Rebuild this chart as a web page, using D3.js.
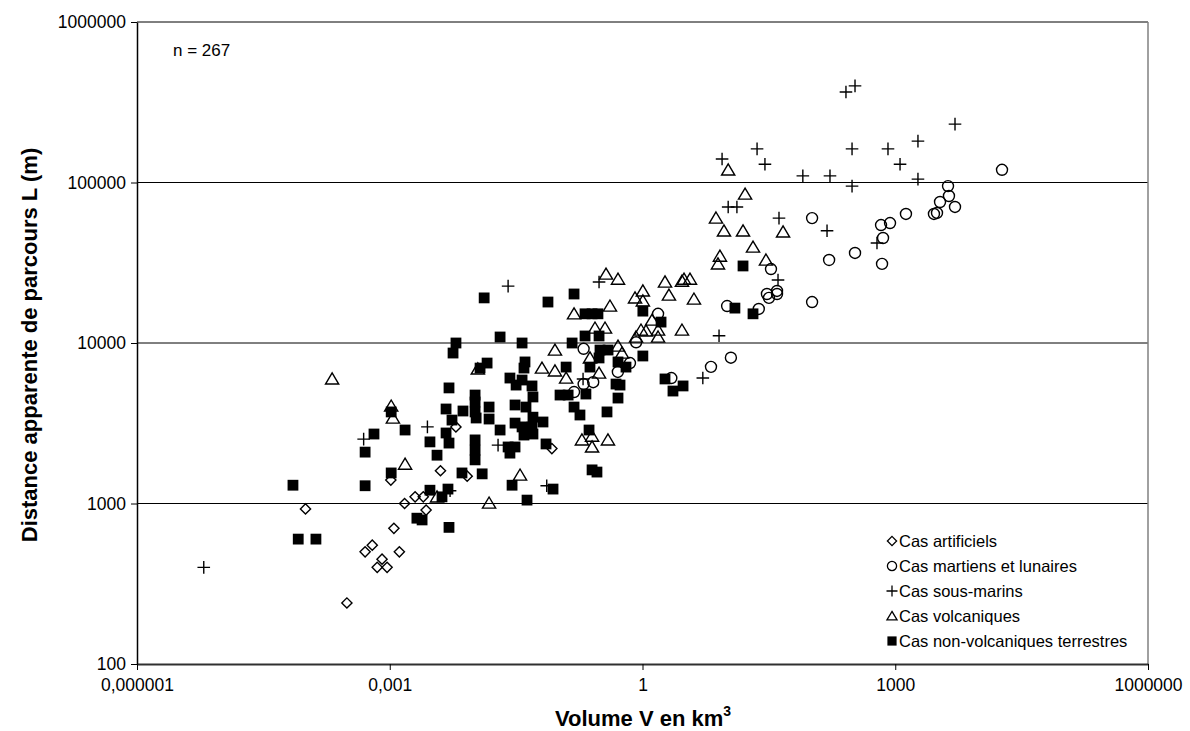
<!DOCTYPE html>
<html>
<head>
<meta charset="utf-8">
<script src="https://cdn.jsdelivr.net/npm/d3@7"></script>
<style>
  html, body { margin: 0; padding: 0; background: #fff; }
  svg { display: block; font-family: "Liberation Sans", Arial, sans-serif; }
</style>
</head>
<body>
<svg id="chart" width="1190" height="731"></svg>
<script>
// ---------------- DATA ----------------
const xTickValues = [1e-6, 1e-3, 1, 1e3, 1e6];
const xTickLabels = ["0,000001", "0,001", "1", "1000", "1000000"];
const yTickValues = [100, 1000, 10000, 100000, 1000000];
const yTickLabels = ["100", "1000", "10000", "100000", "1000000"];

const seriesNames = ["Cas artificiels", "Cas martiens et lunaires", "Cas sous-marins", "Cas volcaniques", "Cas non-volcaniques terrestres"];

// Cas artificiels
const artificielsV = [1.0e-4, 3.1e-4, 5.1e-4, 6.2e-4, 8.1e-4, 7.1e-4, 9.3e-4, 1.3e-3, 1.12e-3, 1.03e-3, 1.5e-3, 2.0e-3, 2.5e-3, 2.7e-3, 4.0e-3, 6.1e-3, 8.3e-3, 0.084];
const artificielsL = [925, 240, 500, 550, 450, 400, 400, 500, 700, 1400, 1000, 1100, 1100, 910, 1600, 3000, 1480, 2200];

// Cas martiens et lunaires
const martiensV = [0.20, 0.84, 1.53, 0.71, 0.51, 0.20, 0.26, 0.154, 2.2, 6.5, 11.2, 10.1, 24, 33.5, 30, 31.7, 39.5, 39.5, 103, 103, 164, 333, 678, 867, 716, 697, 1340, 2880, 3130, 3400, 4230, 4340, 5120, 18500];
const martiensL = [9200, 10100, 15200, 7500, 6600, 5550, 5700, 4950, 6050, 7100, 8100, 17000, 16300, 28900, 20200, 19100, 21100, 20200, 60000, 18000, 32900, 36400, 54300, 55900, 45100, 31100, 63700, 63700, 64600, 75600, 95000, 82400, 70400, 120000];

// Cas sous-marins
const sousMarinsV = [6.2e-6, 4.9e-4, 2.8e-3, 5.2e-3, 0.0193, 0.0254, 0.073, 0.305, 0.197, 5.2, 8.1, 10.4, 13.2, 8.8, 22.9, 28.4, 41.7, 40.6, 80, 168, 155, 260, 333, 307, 307, 607, 820, 1140, 1860, 1860, 5120];
const sousMarinsL = [400, 2520, 3000, 1200, 2310, 22600, 1290, 24000, 5970, 6050, 11100, 70400, 70400, 140000, 162000, 130000, 60000, 24700, 110000, 110000, 50000, 366000, 400000, 162000, 95000, 42000, 162000, 130000, 181000, 105000, 231000];

// Cas volcaniques
const volcaniquesV = [2.07e-4, 1.04e-3, 1.09e-3, 1.52e-3, 3.64e-3, 0.0151, 0.0352, 0.0111, 0.0641, 0.0914, 0.0914, 0.124, 0.154, 0.238, 0.305, 0.369, 0.512, 0.411, 0.273, 0.359, 0.815, 1.01, 1.01, 0.838, 0.96, 1.10, 1.53, 1.53, 1.30, 2.06, 1.85, 2.94, 3.11, 3.66, 4.08, 2.94, 0.512, 0.571, 0.191, 0.252, 0.389, 0.252, 7.45, 9.27, 15.6, 10.4, 16.5, 46.6, 20.5, 8.3, 7.87, 29.2];
const volcaniquesL = [5970, 4050, 3410, 1760, 1100, 1007, 1505, 6890, 6980, 9040, 6700, 6050, 15200, 8070, 6500, 26900, 25000, 17000, 12400, 12400, 19100, 21100, 18300, 10900, 12050, 11900, 12050, 10900, 13900, 19900, 24000, 24300, 25000, 25000, 18800, 12050, 9570, 8660, 2490, 2250, 2490, 2630, 60100, 49900, 49900, 119700, 84700, 49200, 39600, 34800, 31100, 32900];

// Cas non-volcaniques terrestres
const nonVolcaniquesV = [7.1e-5, 8.2e-5, 1.33e-4, 5.1e-4, 5.1e-4, 6.5e-4, 1.04e-3, 1.04e-3, 1.52e-3, 2.1e-3, 2.42e-3, 3.0e-3, 3.64e-3, 3.0e-3, 4.66e-3, 5.05e-3, 4.17e-3, 4.91e-3, 5.05e-3, 5.05e-3, 4.66e-3, 5.48e-3, 7.2e-3, 7.4e-3, 0.0103, 0.0103, 0.0103, 0.0106, 0.0151, 0.0151, 0.0204, 0.0103, 0.0103, 0.0103, 0.0125, 0.0143, 0.0118, 5.64e-3, 6.11e-3, 0.0283, 0.0426, 0.0132, 0.0755, 0.154, 0.0204, 0.0372, 0.146, 0.208, 0.305, 0.208, 0.252, 0.296, 0.313, 0.39, 0.305, 0.238, 0.124, 0.512, 0.637, 0.485, 0.541, 0.512, 1.01, 1.01, 0.379, 0.232, 0.252, 0.288, 0.154, 0.181, 0.105, 0.131, 0.213, 0.0403, 0.0392, 0.0267, 0.0316, 0.0372, 0.0488, 0.0501, 0.0307, 0.0414, 0.0501, 0.0307, 0.0372, 0.0488, 0.0392, 0.0501, 0.0254, 0.0307, 0.0267, 0.0659, 0.0716, 0.0867, 15.6, 12.5, 20.5, 1.66, 1.85, 3.03, 2.30];
const nonVolcaniquesL = [1300, 600, 600, 2090, 1290, 2710, 3720, 1550, 2870, 810, 790, 2420, 2000, 1210, 2750, 2380, 1100, 1230, 710, 5250, 3880, 3310, 1550, 3770, 4740, 4290, 3720, 3410, 3990, 3360, 2870, 2490, 2150, 1870, 1530, 7500, 6980, 8660, 10000, 1300, 1050, 19100, 18000, 20200, 10900, 10000, 10000, 11060, 11060, 15200, 15200, 15200, 9040, 9040, 8070, 7080, 7080, 7620, 7080, 5550, 5470, 4540, 15800, 8300, 3720, 2870, 1620, 1570, 3990, 3560, 4740, 4740, 4810, 7620, 6980, 6050, 5470, 5880, 5400, 4610, 4110, 3990, 3450, 3170, 3000, 3000, 2670, 2710, 2250, 2250, 2060, 3220, 2350, 1230, 30200, 16500, 15200, 13500, 5970, 5400, 5020];

const sampleNote = "n = 267";

// ---------------- LAYOUT ----------------
const svg = d3.select("#chart");
const plot = { left: 137, right: 1148, top: 22, bottom: 664 };

const x = d3.scaleLog().domain([1e-6, 1e6]).range([plot.left, plot.right]);
const y = d3.scaleLog().domain([100, 1e6]).range([plot.bottom, plot.top]);

// gridlines
svg.append("g")
  .selectAll("line")
  .data(yTickValues.slice(1))
  .join("line")
  .attr("x1", plot.left).attr("x2", plot.right)
  .attr("y1", d => y(d)).attr("y2", d => y(d))
  .attr("stroke", "#000").attr("stroke-width", 1);

// right border
svg.append("line")
  .attr("x1", plot.right).attr("x2", plot.right)
  .attr("y1", plot.top).attr("y2", plot.bottom)
  .attr("stroke", "#808080").attr("stroke-width", 1.5);

// axes
const xAxis = d3.axisBottom(x)
  .tickValues(xTickValues)
  .tickFormat((d, i) => xTickLabels[i])
  .tickSize(6).tickSizeOuter(0).tickPadding(9);
const gx = svg.append("g").attr("transform", `translate(0,${plot.bottom})`).call(xAxis);
gx.select(".domain").attr("stroke", "#303030").attr("stroke-width", 2);
gx.selectAll(".tick line").attr("stroke", "#000");
gx.selectAll(".tick text").attr("font-size", 17.5).attr("fill", "#000")
  .attr("font-family", "'Liberation Sans', Arial, sans-serif");

const yAxis = d3.axisLeft(y)
  .tickValues(yTickValues)
  .tickFormat((d, i) => yTickLabels[i])
  .tickSize(6).tickSizeOuter(0).tickPadding(5);
const gy = svg.append("g").attr("transform", `translate(${plot.left},0)`).call(yAxis);
gy.select(".domain").attr("stroke", "#000").attr("stroke-width", 1.5);
gy.selectAll(".tick line").attr("stroke", "#000");
gy.selectAll(".tick text").attr("font-size", 17.5).attr("fill", "#000")
  .attr("font-family", "'Liberation Sans', Arial, sans-serif");

// ---------------- MARKERS ----------------
function markerPath(type, s) {
  if (type === "diamond") return `M0,${-s}L${s},0L0,${s}L${-s},0Z`;
  if (type === "circle") return `M${s},0A${s},${s} 0 1,1 ${-s},0A${s},${s} 0 1,1 ${s},0Z`;
  if (type === "plus") return `M${-s},0H${s}M0,${-s}V${s}`;
  if (type === "triangle") return `M0,${-s}L${s * 1.1},${s * 0.85}L${-s * 1.1},${s * 0.85}Z`;
  if (type === "square") return `M${-s},${-s}H${s}V${s}H${-s}Z`;
}

const series = [
  { name: seriesNames[0], v: artificielsV, l: artificielsL, type: "diamond", size: 5.1, fill: "none" },
  { name: seriesNames[1], v: martiensV, l: martiensL, type: "circle", size: 5.5, fill: "none" },
  { name: seriesNames[2], v: sousMarinsV, l: sousMarinsL, type: "plus", size: 6.3, fill: "none" },
  { name: seriesNames[3], v: volcaniquesV, l: volcaniquesL, type: "triangle", size: 6, fill: "none" },
  { name: seriesNames[4], v: nonVolcaniquesV, l: nonVolcaniquesL, type: "square", size: 5.4, fill: "#000" }
];

series.forEach(s => {
  const pts = s.v.map((v, i) => ({ v, l: s.l[i] }));
  svg.append("g")
    .selectAll("path")
    .data(pts)
    .join("path")
    .attr("transform", d => `translate(${x(d.v)},${y(d.l)})`)
    .attr("d", markerPath(s.type, s.size))
    .attr("fill", s.fill)
    .attr("stroke", "#000")
    .attr("stroke-width", s.type === "square" ? 0 : 1.4);
});

// ---------------- TEXT ----------------
svg.append("text")
  .attr("x", 173).attr("y", 56)
  .attr("font-size", 17).text(sampleNote);

// axis titles
svg.append("text")
  .attr("transform", "translate(37,345) rotate(-90)")
  .attr("text-anchor", "middle")
  .attr("font-size", 22).attr("font-weight", "bold")
  .text("Distance apparente de parcours L (m)");

const xt = svg.append("text")
  .attr("x", 643).attr("y", 726)
  .attr("text-anchor", "middle")
  .attr("font-size", 22).attr("font-weight", "bold");
xt.append("tspan").text("Volume V en km");
xt.append("tspan").attr("dy", -10).attr("font-size", 14).text("3");

// legend
const legend = svg.append("g");
series.forEach((s, i) => {
  const ly = 541 + i * 25;
  legend.append("path")
    .attr("transform", `translate(892,${ly})`)
    .attr("d", markerPath(s.type, s.type === "plus" ? 5.5 : 4.6))
    .attr("fill", s.fill)
    .attr("stroke", "#000")
    .attr("stroke-width", s.type === "square" ? 0 : 1.3);
  legend.append("text")
    .attr("x", 899).attr("y", ly + 6)
    .attr("font-size", 16.5)
    .text(s.name);
});
</script>
</body>
</html>
